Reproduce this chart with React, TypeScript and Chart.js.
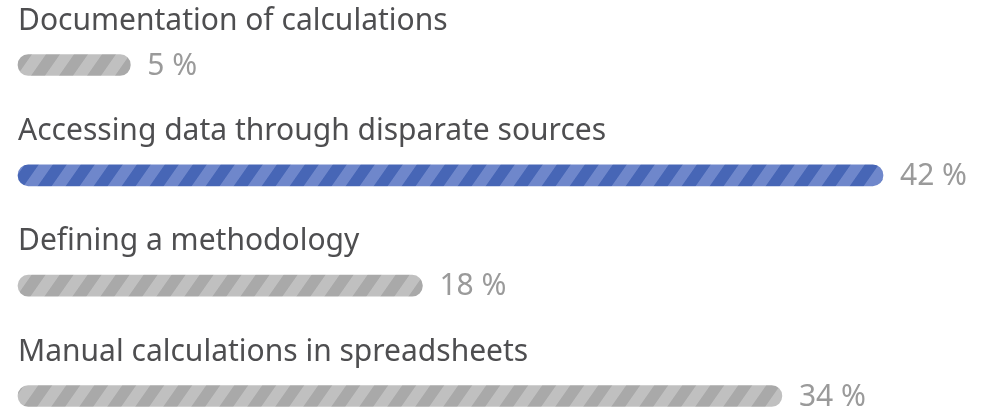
import React, { useEffect, useRef } from "react";
import { Chart, registerables } from "chart.js";

Chart.register(...registerables);

const categories = [
  "Documentation of calculations",
  "Accessing data through disparate sources",
  "Defining a methodology",
  "Manual calculations in spreadsheets",
];
const values = [5, 42, 18, 34];
const axisMax = 38.5; // longest bar is capped at the axis end

function makeStripes(dark: string, light: string): CanvasPattern | string {
  const c = document.createElement("canvas");
  const period = 28;
  c.width = period;
  c.height = 4;
  const ctx = c.getContext("2d");
  if (!ctx) return dark;
  ctx.fillStyle = dark;
  ctx.fillRect(0, 0, period, 4);
  ctx.fillStyle = light;
  ctx.fillRect(period / 2, 0, period / 2, 4);
  const p = ctx.createPattern(c, "repeat");
  if (!p) return dark;
  try {
    p.setTransform(new DOMMatrix().skewX(-35));
  } catch (e) {}
  return p;
}

export default function App() {
  const ref = useRef<HTMLCanvasElement>(null);
  useEffect(() => {
    document.body.style.margin = "0";
    const canvas = ref.current!;
    const maxVal = Math.max(...values);
    const grey = makeStripes("#a9a9a9", "#c0c0c0");
    const blue = makeStripes("#4766b6", "#6f87cb");
    const labelPlugin = {
      id: "rowLabels",
      afterDatasetsDraw(chart: any) {
        const ctx = chart.ctx;
        const meta = chart.getDatasetMeta(0);
        ctx.save();
        meta.data.forEach((bar: any, i: number) => {
          ctx.textBaseline = "middle";
          ctx.textAlign = "left";
          ctx.font = "30px 'Noto Sans'";
          ctx.fillStyle = "#4e4e50";
          ctx.fillText(categories[i], chart.chartArea.left, bar.y - 44);
          ctx.fillStyle = "#9a9a9a";
          ctx.fillText(values[i] + " %", bar.x + 17, bar.y + 1);
        });
        ctx.restore();
      },
    };
    const chart = new Chart(canvas, {
      type: "bar",
      data: {
        labels: categories,
        datasets: [
          {
            data: values.map((v) => Math.min(v, axisMax)),
            backgroundColor: values.map((v) => (v === maxVal ? blue : grey)) as any,
            borderRadius: 11,
            borderSkipped: false,
            barThickness: 21,
            clip: false as any,
          },
        ],
      },
      options: {
        indexAxis: "y",
        animation: false,
        responsive: false,
        layout: { padding: { left: 18, right: 106, top: 65, bottom: 16 } },
        plugins: { legend: { display: false }, tooltip: { enabled: false } },
        scales: {
          x: { display: false, min: 0, max: axisMax },
          y: { display: false, offset: false },
        },
      },
      plugins: [labelPlugin],
    });
    return () => chart.destroy();
  }, []);
  return <canvas ref={ref} width={989} height={412} style={{ display: "block" }} />;
}
